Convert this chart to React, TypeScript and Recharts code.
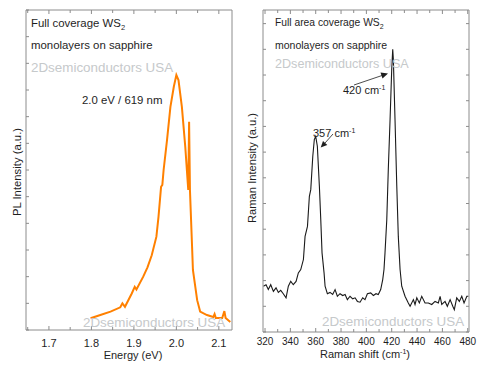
import React from 'react';
import { LineChart, Line, XAxis, YAxis } from 'recharts';

// ---------- PL spectrum (left) ----------
const plEnergy = [1.798, 1.821, 1.845, 1.868, 1.873, 1.879, 1.895, 1.902, 1.906, 1.922, 1.932, 1.942, 1.953, 1.958, 1.964, 1.967, 1.970, 1.978, 1.986, 1.994, 2.000, 2.005, 2.013, 2.021, 2.028, 2.030, 2.032, 2.037, 2.039, 2.049, 2.056, 2.072, 2.087, 2.090, 2.093, 2.108, 2.113, 2.116, 2.127];
const plIntensity = [0.44, 0.56, 0.69, 0.85, 1.0, 0.87, 1.37, 1.62, 1.52, 2.0, 2.35, 2.8, 3.5, 4.25, 5.37, 5.44, 6.0, 7.12, 8.37, 9.12, 9.56, 9.37, 8.37, 6.87, 5.25, 7.81, 5.25, 3.12, 2.25, 1.12, 0.69, 0.56, 0.49, 0.6, 0.45, 0.45, 0.71, 0.45, 0.3];
const plXTicks = [1.65, 1.7, 1.75, 1.8, 1.85, 1.9, 1.95, 2.0, 2.05, 2.1];
const plXLabelTicks = [1.7, 1.8, 1.9, 2.0, 2.1];
const plYTicks = [0, 1, 2, 3, 4, 5, 6, 7, 8, 9, 10, 11, 12];

// ---------- Raman spectrum (right) ----------
const ramanShift = [318.7, 320.8, 322.6, 324.5, 326.6, 328.7, 330.5, 332.4, 334.4, 336.6, 338.4, 340.3, 342.3, 344.5, 346.3, 348.2, 350.3, 351.6, 353.5, 355.0, 356.1, 357.7, 358.9, 360.0, 361.3, 362.9, 364.0, 365.0, 366.6, 367.4, 369.2, 371.3, 373.4, 375.3, 377.1, 379.2, 381.3, 383.2, 385.0, 387.1, 389.2, 391.1, 392.9, 395.0, 397.1, 398.9, 400.8, 403.4, 405.5, 407.6, 409.4, 411.3, 412.9, 413.9, 414.7, 416.1, 417.3, 418.7, 420.0, 420.8, 421.3, 422.6, 424.0, 425.2, 426.6, 427.9, 430.5, 433.1, 434.5, 437.1, 438.4, 439.8, 441.8, 443.7, 446.3, 448.9, 451.6, 454.2, 456.8, 458.2, 459.5, 462.1, 463.9, 466.1, 468.2, 469.4, 471.3, 473.4, 475.3, 477.1, 479.3, 480.6];
const ramanIntensity = [1.78, 1.84, 1.65, 1.84, 1.58, 1.72, 1.54, 1.62, 1.49, 1.33, 1.78, 1.97, 1.84, 1.97, 2.30, 2.43, 2.82, 3.72, 4.11, 5.28, 5.54, 6.84, 7.49, 7.61, 7.23, 5.67, 4.37, 3.08, 2.30, 1.78, 1.49, 1.54, 1.46, 1.65, 1.39, 1.49, 1.42, 1.46, 1.26, 1.39, 1.29, 1.33, 1.19, 1.16, 1.33, 1.26, 1.49, 1.52, 1.42, 1.49, 1.46, 1.65, 2.04, 2.43, 3.08, 4.37, 6.32, 8.27, 10.22, 11.0, 10.6, 8.27, 5.67, 3.72, 2.43, 1.78, 1.39, 1.13, 1.0, 1.26, 1.07, 1.33, 1.13, 1.39, 1.13, 1.13, 1.07, 1.19, 1.13, 1.39, 1.07, 1.19, 1.0, 1.26, 1.0, 0.87, 1.33, 1.19, 1.39, 1.13, 1.39, 1.39];
const ramanXTicks = [320, 330, 340, 350, 360, 370, 380, 390, 400, 410, 420, 430, 440, 450, 460, 470, 480];
const ramanXLabelTicks = [320, 340, 360, 380, 400, 420, 440, 460, 480];
const ramanYTicks = [0, 1, 2, 3, 4, 5, 6, 7, 8, 9, 10, 11, 12];

const plData = plEnergy.map((e, i) => ({ e, v: plIntensity[i] }));
const ramanData = ramanShift.map((s, i) => ({ s, v: ramanIntensity[i] }));

const FONT = '"Liberation Sans", Arial, Helvetica, sans-serif';
const FRAME = '#8c8c8c';
const TEXT = '#1e1e1e';
const WATER = '#c6c9cb';

const isIn = (v: number, list: number[]) => list.some((t) => Math.abs(t - v) < 1e-6);

const makeXTick = (pos: 'top' | 'bottom', labels: number[], fontSize: number, labelDy: number, digits: number) =>
  (props: any) => {
    const { x, y, payload } = props;
    const v = payload.value as number;
    const major = isIn(v, labels);
    const len = major ? 4 : 3;
    return (
      <g>
        <line x1={x} x2={x} y1={y} y2={pos === 'bottom' ? y - len : y + len} stroke={FRAME} strokeWidth={1} />
        {pos === 'bottom' && major ? (
          <text x={x} y={y + labelDy} textAnchor="middle" fontSize={fontSize} fontFamily={FONT} fill={TEXT}>
            {v.toFixed(digits)}
          </text>
        ) : null}
      </g>
    );
  };

const makeYTick = (pos: 'left' | 'right') => (props: any) => {
  const { x, y } = props;
  const len = 3;
  return <line x1={x} x2={pos === 'left' ? x + len : x - len} y1={y} y2={y} stroke={FRAME} strokeWidth={1} />;
};

export default function App() {
  return (
    <div style={{ position: 'absolute', left: 0, top: 0, width: 481, height: 367, background: '#fff', overflow: 'hidden' }}>
      <div style={{ position: 'absolute', left: 0, top: 0 }}>
        <LineChart width={240} height={367} data={plData} margin={{ top: 9, right: 7, bottom: 36, left: 25 }}>
          <XAxis xAxisId="b" type="number" dataKey="e" domain={[1.646, 2.131]} allowDataOverflow ticks={plXTicks} interval={0}
            height={1} tickSize={0} tickMargin={0} tickLine={false} axisLine={{ stroke: FRAME }} tick={makeXTick('bottom', plXLabelTicks, 11, 16.7, 1)} />
          <XAxis xAxisId="t" orientation="top" type="number" dataKey="e" domain={[1.646, 2.131]} allowDataOverflow ticks={plXTicks} interval={0}
            height={1} tickSize={0} tickMargin={0} tickLine={false} axisLine={{ stroke: FRAME }} tick={makeXTick('top', plXLabelTicks, 11, 0, 1)} />
          <YAxis yAxisId="l" type="number" domain={[0, 12]} ticks={plYTicks} interval={0} width={1} tickSize={0} tickMargin={0}
            tickLine={false} axisLine={{ stroke: FRAME }} tick={makeYTick('left')} />
          <YAxis yAxisId="r" orientation="right" type="number" domain={[0, 12]} ticks={plYTicks} interval={0} width={1} tickSize={0} tickMargin={0}
            tickLine={false} axisLine={{ stroke: FRAME }} tick={makeYTick('right')} />
          <Line xAxisId="b" yAxisId="l" type="linear" dataKey="v" stroke="#ff8000" strokeWidth={2} dot={false} activeDot={false} isAnimationActive={false} />
        </LineChart>
      </div>
      <div style={{ position: 'absolute', left: 240, top: 0 }}>
        <LineChart width={241} height={367} data={ramanData} margin={{ top: 9, right: 11, bottom: 34, left: 22 }}>
          <XAxis xAxisId="b" type="number" dataKey="s" domain={[318.4, 481]} allowDataOverflow ticks={ramanXTicks} interval={0}
            height={1} tickSize={0} tickMargin={0} tickLine={false} axisLine={{ stroke: FRAME }} tick={makeXTick('bottom', ramanXLabelTicks, 10, 13, 0)} />
          <XAxis xAxisId="t" orientation="top" type="number" dataKey="s" domain={[318.4, 481]} allowDataOverflow ticks={ramanXTicks} interval={0}
            height={1} tickSize={0} tickMargin={0} tickLine={false} axisLine={{ stroke: FRAME }} tick={makeXTick('top', ramanXLabelTicks, 10, 0, 0)} />
          <YAxis yAxisId="l" type="number" domain={[0, 12.53]} allowDataOverflow ticks={ramanYTicks} interval={0} width={1} tickSize={0} tickMargin={0}
            tickLine={false} axisLine={{ stroke: FRAME }} tick={makeYTick('left')} />
          <YAxis yAxisId="r" orientation="right" type="number" domain={[0, 12.53]} allowDataOverflow ticks={ramanYTicks} interval={0} width={1} tickSize={0} tickMargin={0}
            tickLine={false} axisLine={{ stroke: FRAME }} tick={makeYTick('right')} />
          <Line xAxisId="b" yAxisId="l" type="linear" dataKey="v" stroke="#1a1a1a" strokeWidth={1.1} dot={false} activeDot={false} isAnimationActive={false} />
        </LineChart>
      </div>
      <svg width={481} height={367} style={{ position: 'absolute', left: 0, top: 0, pointerEvents: 'none' }} fontFamily={FONT}>
        {/* left panel annotations */}
        <text x={31} y={27} fontSize={11.4} fill={TEXT}>Full coverage WS<tspan fontSize={7.5} dy={3}>2</tspan></text>
        <text x={31} y={49} fontSize={11.4} fill={TEXT}>monolayers on sapphire</text>
        <text x={31} y={72} fontSize={13.4} fill={WATER}>2Dsemiconductors USA</text>
        <text x={82} y={104} fontSize={11.4} fill={TEXT}>2.0 eV / 619 nm</text>
        <text x={83} y={327} fontSize={13.4} fill={WATER}>2Dsemiconductors USA</text>
        <text transform="translate(21,172) rotate(-90)" textAnchor="middle" fontSize={11.3} fill={TEXT}>PL Intensity (a.u.)</text>
        <text x={133} y={359} textAnchor="middle" fontSize={11} fill={TEXT}>Energy (eV)</text>
        {/* right panel annotations */}
        <text x={275} y={26} fontSize={10.3} fill={TEXT}>Full area coverage WS<tspan fontSize={7} dy={3}>2</tspan></text>
        <text x={275} y={49} fontSize={10.5} fill={TEXT}>monolayers on sapphire</text>
        <text x={275} y={68} fontSize={12.6} fill={WATER}>2Dsemiconductors USA</text>
        <text x={322} y={326} fontSize={13.4} fill={WATER}>2Dsemiconductors USA</text>
        <text x={343} y={94} fontSize={11} fill={TEXT}>420 cm<tspan fontSize={7} dy={-4}>-1</tspan></text>
        <line x1={354} y1={85} x2={382} y2={75.5} stroke={TEXT} strokeWidth={0.8} />
        <polygon points="388,73.5 380.5,72.5 382.5,78.5" fill={TEXT} />
        <text x={313} y={137} fontSize={11} fill={TEXT}>357 cm<tspan fontSize={7} dy={-4}>-1</tspan></text>
        <line x1={333} y1={134} x2={325} y2={143} stroke={TEXT} strokeWidth={0.8} />
        <polygon points="320.7,147.5 323,141 327.3,145" fill={TEXT} />
        <text transform="translate(256,168) rotate(-90)" textAnchor="middle" fontSize={11.2} fill={TEXT}>Raman Intensity (a.u.)</text>
        <text x={365} y={357.5} textAnchor="middle" fontSize={11} fill={TEXT}>Raman shift (cm<tspan fontSize={7} dy={-4}>-1</tspan><tspan dy={4}>)</tspan></text>
      </svg>
    </div>
  );
}
